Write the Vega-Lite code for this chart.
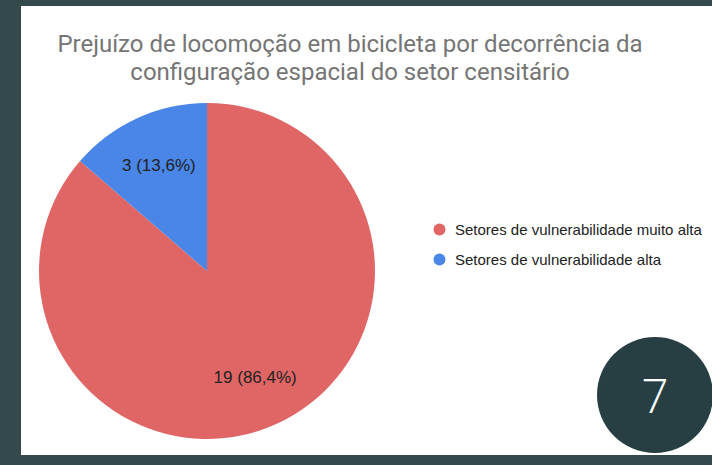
{
  "$schema": "https://vega.github.io/schema/vega-lite/v6.json",
  "background": "#33494b",
  "padding": {"left": 21, "top": 6, "right": 0, "bottom": 10},
  "config": {
    "view": {"fill": "#ffffff", "stroke": "#ffffff", "strokeWidth": 0},
    "concat": {"spacing": 0},
    "font": "Liberation Sans"
  },
  "spacing": 0,
  "bounds": "flush",
  "vconcat": [
    {
      "width": 691,
      "height": 81,
      "view": {"fill": "#ffffff", "stroke": "#ffffff", "strokeWidth": 0},
      "data": {"values": [{"titulo": "Prejuízo de locomoção em bicicleta por decorrência da configuração espacial do setor censitário"}]},
      "mark": {
        "type": "text",
        "text": ["Prejuízo de locomoção em bicicleta por decorrência da", "configuração espacial do setor censitário"],
        "font": "Roboto",
        "fontSize": 24,
        "color": "#757575",
        "align": "center",
        "baseline": "alphabetic",
        "lineHeight": 28,
        "dx": -16.5,
        "dy": 5.5
      }
    },
    {
      "spacing": 0,
      "bounds": "flush",
      "hconcat": [
        {
          "width": 372,
          "height": 368,
          "view": {"fill": "#ffffff", "stroke": "#ffffff", "strokeWidth": 0},
          "data": {
            "values": [
              {"setor": "Setores de vulnerabilidade muito alta", "valor": 19, "rotulo": "19 (86,4%)"},
              {"setor": "Setores de vulnerabilidade alta", "valor": 3, "rotulo": "3 (13,6%)"}
            ]
          },
          "encoding": {
            "theta": {"field": "valor", "type": "quantitative", "stack": true},
            "order": {"field": "valor", "sort": "descending"},
            "color": {
              "field": "setor",
              "type": "nominal",
              "scale": {
                "domain": ["Setores de vulnerabilidade muito alta", "Setores de vulnerabilidade alta"],
                "range": ["#e06666", "#4a86e8"]
              },
              "legend": {
                "title": null,
                "orient": "none",
                "direction": "vertical",
                "legendX": 411,
                "legendY": 216,
                "padding": 0,
                "symbolType": "circle",
                "symbolSize": 144,
                "symbolStrokeWidth": 0,
                "labelFont": "Liberation Sans",
                "labelFontSize": 15,
                "labelColor": "#222222",
                "labelOffset": 8,
                "labelLimit": 400,
                "rowPadding": 14
              }
            }
          },
          "layer": [
            {"mark": {"type": "arc", "radius": 168}},
            {
              "mark": {"type": "text", "radius": 116, "fontSize": 17, "font": "Liberation Sans", "dy": 1},
              "encoding": {
                "text": {"field": "rotulo"},
                "color": {"value": "#222222"}
              }
            }
          ]
        },
        {
          "spacing": 0,
          "bounds": "flush",
          "vconcat": [
            {
              "width": 319,
              "height": 248,
              "view": {"fill": "#ffffff", "stroke": "#ffffff", "strokeWidth": 0},
              "data": {"values": [{}]},
              "mark": {"type": "point", "opacity": 0}
            },
            {
              "spacing": 0,
              "bounds": "flush",
              "hconcat": [
                {
                  "width": 205,
                  "height": 120,
                  "view": {"fill": "#ffffff", "stroke": "#ffffff", "strokeWidth": 0},
                  "data": {"values": [{}]},
                  "mark": {"type": "point", "opacity": 0}
                },
                {
                  "width": 114,
                  "height": 120,
                  "view": {"fill": "#ffffff", "stroke": "#ffffff", "strokeWidth": 0},
                  "data": {"values": [{"pagina": "7"}]},
                  "layer": [
                    {"mark": {"type": "point", "shape": "circle", "filled": true, "size": 13456, "color": "#273f43", "opacity": 1}},
                    {
                      "mark": {"type": "text", "font": "Open Sans", "fontSize": 48, "fontWeight": 300, "color": "white", "baseline": "middle", "dy": 4},
                      "encoding": {"text": {"field": "pagina"}}
                    }
                  ]
                }
              ]
            }
          ]
        }
      ]
    }
  ]
}
